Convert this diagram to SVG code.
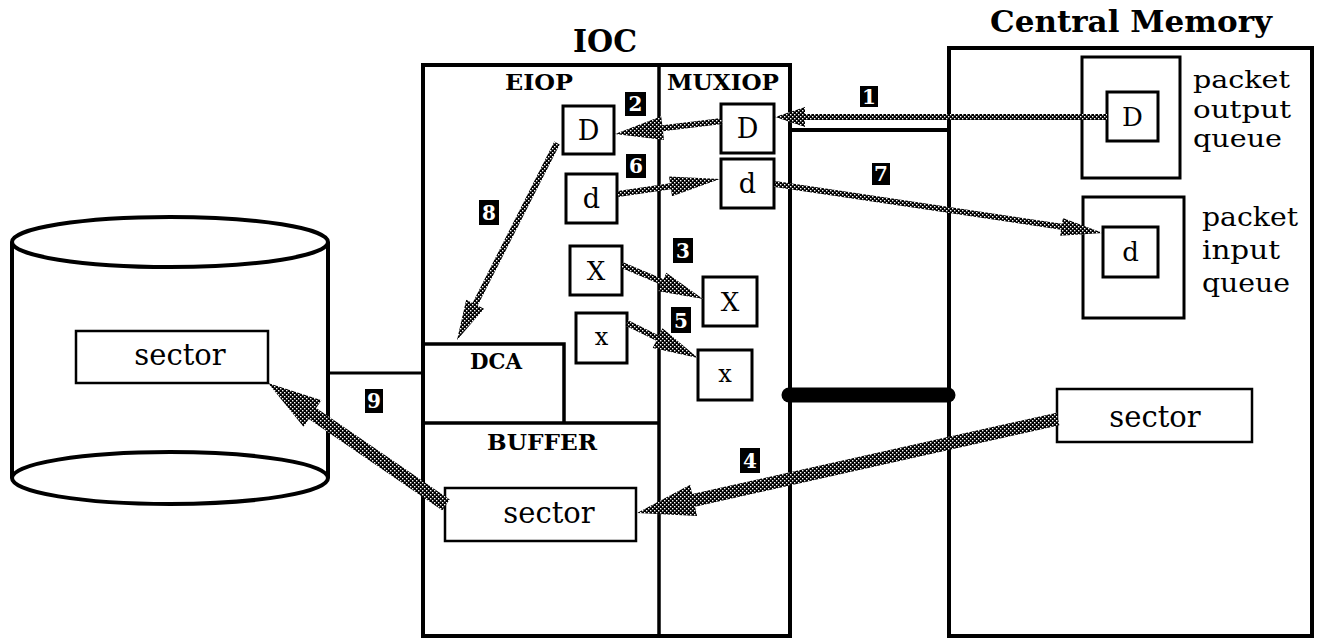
<svg xmlns="http://www.w3.org/2000/svg" width="1319" height="640" viewBox="0 0 1319 640">
<style>
.frame{fill:none;stroke:#000;stroke-width:4}
.div{fill:none;stroke:#000;stroke-width:3.5}
.box{fill:#fff;stroke:#000;stroke-width:3}
.qbox{fill:#fff;stroke:#000;stroke-width:3}
.t{font-family:"DejaVu Serif","Liberation Serif",serif;fill:#000}
.b{font-family:"DejaVu Serif","Liberation Serif",serif;font-weight:bold;fill:#000}
.lb{fill:#000}
.ln{font-family:"DejaVu Serif","Liberation Serif",serif;font-weight:bold;font-size:20px;fill:#fff;text-anchor:middle}
.arr{fill:url(#hatch);stroke:none}
.mid{text-anchor:middle}
</style>
<defs>
<pattern id="hatch" width="4" height="4" patternUnits="userSpaceOnUse">
<rect width="4" height="4" fill="#000"/>
<rect x="0" y="0" width="1.4" height="1.4" fill="#fff"/>
<rect x="2" y="2" width="1.4" height="1.4" fill="#fff"/>
</pattern>
</defs>
<rect width="1319" height="640" fill="#fff"/>

<g id="disk">
<line x1="12" y1="242" x2="12" y2="478" class="frame"/>
<line x1="328" y1="242" x2="328" y2="478" class="frame"/>
<ellipse cx="170" cy="242" rx="158" ry="25" class="frame"/>
<ellipse cx="170" cy="478" rx="158" ry="26" class="frame"/>
<rect x="76" y="331" width="192" height="52" fill="#fff" stroke="#000" stroke-width="2.5"/>
<text x="180" y="365" class="t mid" font-size="29">sector</text>
</g>

<g id="ioc">
<text x="573" y="52" class="b" font-size="32" textLength="64" lengthAdjust="spacingAndGlyphs">IOC</text>
<rect x="423" y="65" width="367" height="571" class="frame"/>
<line x1="659" y1="65" x2="659" y2="636" class="div"/>
<text x="505" y="90" class="b" font-size="23" textLength="68" lengthAdjust="spacingAndGlyphs">EIOP</text>
<text x="667" y="90" class="b" font-size="23" textLength="112" lengthAdjust="spacingAndGlyphs">MUXIOP</text>
</g>

<g id="dca">
<polyline points="423,344 564,344 564,423" class="div"/>
<text x="470" y="369" class="b" font-size="22" textLength="52" lengthAdjust="spacingAndGlyphs">DCA</text>
</g>

<g id="buffer">
<line x1="423" y1="423" x2="659" y2="423" class="div"/>
<text x="487" y="450" class="b" font-size="22" textLength="110" lengthAdjust="spacingAndGlyphs">BUFFER</text>
<rect x="445" y="488" width="191" height="53" fill="#fff" stroke="#000" stroke-width="2.5"/>
<text x="549" y="523" class="t mid" font-size="29">sector</text>
</g>

<g id="eiop-D"><rect x="563" y="106" width="51" height="48" class="box"/><text x="588.5" y="140" class="t mid" font-size="27">D</text></g>
<g id="eiop-d"><rect x="566" y="174" width="51" height="49" class="box"/><text x="591.5" y="208" class="t mid" font-size="27">d</text></g>
<g id="eiop-X"><rect x="570" y="246" width="52" height="49" class="box"/><text x="596" y="280" class="t mid" font-size="26">X</text></g>
<g id="eiop-x"><rect x="576" y="313" width="51" height="50" class="box"/><text x="601.5" y="345" class="t mid" font-size="24">x</text></g>
<g id="mux-D"><rect x="721" y="104" width="53" height="49" class="box"/><text x="747.5" y="138" class="t mid" font-size="27">D</text></g>
<g id="mux-d"><rect x="721" y="159" width="53" height="49" class="box"/><text x="747.5" y="193" class="t mid" font-size="27">d</text></g>
<g id="mux-X"><rect x="703" y="277" width="54" height="49" class="box"/><text x="730" y="311" class="t mid" font-size="26">X</text></g>
<g id="mux-x"><rect x="698" y="350" width="54" height="50" class="box"/><text x="725" y="382" class="t mid" font-size="24">x</text></g>

<g id="bus">
<line x1="790" y1="130" x2="949" y2="130" class="frame"/>
<line x1="789" y1="395" x2="948" y2="395" stroke="#000" stroke-width="15" stroke-linecap="round"/>
<line x1="328" y1="373" x2="423" y2="373" stroke="#000" stroke-width="3"/>
</g>

<g id="central-memory">
<text x="990" y="32" class="b" font-size="29" textLength="282" lengthAdjust="spacingAndGlyphs">Central Memory</text>
<rect x="949" y="48" width="363" height="588" class="frame"/>
</g>

<g id="output-queue">
<rect x="1082" y="57" width="98" height="121" class="qbox"/>
<rect x="1107" y="92" width="51" height="49" class="box"/>
<text x="1132.5" y="126" class="t mid" font-size="26">D</text>
<text x="1193" y="88" class="t" font-size="25" textLength="97" lengthAdjust="spacingAndGlyphs">packet</text>
<text x="1193" y="118" class="t" font-size="25" textLength="98" lengthAdjust="spacingAndGlyphs">output</text>
<text x="1193" y="147" class="t" font-size="25" textLength="89" lengthAdjust="spacingAndGlyphs">queue</text>
</g>

<g id="input-queue">
<rect x="1083" y="197" width="101" height="121" class="qbox"/>
<rect x="1103" y="227" width="55" height="50" class="box"/>
<text x="1130.5" y="261" class="t mid" font-size="26">d</text>
<text x="1202" y="226" class="t" font-size="26" textLength="96" lengthAdjust="spacingAndGlyphs">packet</text>
<text x="1202" y="259" class="t" font-size="26" textLength="78" lengthAdjust="spacingAndGlyphs">input</text>
<text x="1202" y="292" class="t" font-size="26" textLength="88" lengthAdjust="spacingAndGlyphs">queue</text>
</g>

<g id="cm-sector">
<rect x="1057" y="389" width="195" height="53" fill="#fff" stroke="#000" stroke-width="2.5"/>
<text x="1155" y="427" class="t mid" font-size="29">sector</text>
</g>

<g id="connectors">
<polygon class="arr" points="1107,114 805,114 805,107 775,117 805,127 805,120 1107,120"/>
<polygon class="arr" points="721.6,118 662.3,125.2 661.2,116.3 615,134 664,140.1 663,131.2 722.4,124"/>
<polygon class="arr" points="623.2,262.2 663.6,279.2 666.3,272.8 703,299 658.5,291.2 661.2,284.8 620.8,267.8"/>
<polygon class="arr" points="1056.6,412.7 692.2,494.1 690.1,484.8 637,513 697.1,516 695,506.7 1059.4,425.3"/>
<polygon class="arr" points="628.3,320.3 658.9,335.4 662.5,328.2 698,358 652.7,348 656.3,340.8 625.7,325.7"/>
<polygon class="arr" points="617.6,191 670,183.3 669,176.4 720,179 672,196.2 671,189.3 618.4,197"/>
<polygon class="arr" points="775.4,181 1062,223.8 1062.8,217.9 1103,233 1060.2,235.7 1061,229.8 774.6,187"/>
<polygon class="arr" points="554.3,141.6 472.5,303 466.2,299.8 457,340 484,308.8 477.7,305.6 559.7,144.4"/>
<polygon class="arr" points="449.7,499.6 316.2,408.1 321.5,400.3 268,383 303.5,426.7 308.8,418.9 442.3,510.4"/>
</g>

<g id="step-labels">
<rect class="lb" x="860" y="86" width="18" height="21"/><text class="ln" x="869" y="103.5">1</text>
<rect class="lb" x="625" y="92" width="21" height="24"/><text class="ln" x="635.5" y="111">2</text>
<rect class="lb" x="673" y="238" width="20" height="25"/><text class="ln" x="683" y="258">3</text>
<rect class="lb" x="740" y="448" width="20" height="25"/><text class="ln" x="750" y="468">4</text>
<rect class="lb" x="671" y="307" width="20" height="26"/><text class="ln" x="681" y="327.5">5</text>
<rect class="lb" x="626" y="154" width="20" height="24"/><text class="ln" x="636" y="173">6</text>
<rect class="lb" x="872" y="163" width="18" height="22"/><text class="ln" x="881" y="181">7</text>
<rect class="lb" x="479" y="200" width="20" height="25"/><text class="ln" x="489" y="220">8</text>
<rect class="lb" x="365" y="389" width="18" height="24"/><text class="ln" x="374" y="408">9</text>
</g>
</svg>
